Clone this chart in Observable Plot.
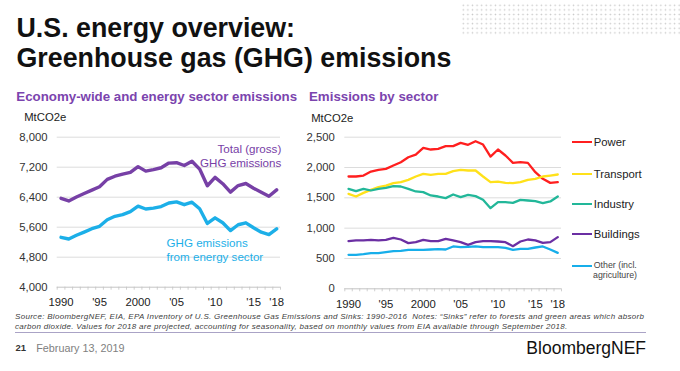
<!DOCTYPE html>
<html>
<head>
<meta charset="utf-8">
<script src="https://cdn.jsdelivr.net/npm/d3@7"></script>
<script src="https://cdn.jsdelivr.net/npm/@observablehq/plot@0.6"></script>
<style>
  html, body { margin: 0; padding: 0; background: #fff; }
  body { width: 680px; height: 371px; position: relative; overflow: hidden;
         font-family: "Liberation Sans", Arial, sans-serif; color: #000; }
  .abs { position: absolute; white-space: nowrap; }
  #dots { left: 461px; top: 3px; width: 219px; height: 32px;
          background-image: radial-gradient(circle, #c9c9c9 0.75px, rgba(255,255,255,0) 1px);
          background-size: 4.6px 4.6px; }
  .title { left: 16.5px; top: 14.1px; font-size: 26.8px; line-height: 29.7px; font-weight: bold; color: #111; }
  .sub { top: 90.4px; font-size: 13.3px; line-height: 13.3px; font-weight: bold; color: #7B44AE; }
  .unit { font-size: 11.3px; line-height: 11.3px; color: #222; }
  .leg { left: 571.7px; display: flex; align-items: center; height: 12px; }
  .leg .sw { width: 20.6px; height: 2.2px; margin-right: 1.5px; }
  .leg .lt { font-size: 11.3px; line-height: 12px; color: #222; }
  .src { left: 15px; top: 312.2px; font-size: 8px; line-height: 10px; font-style: italic; color: #404040; letter-spacing: 0.3px; }
  #rule { left: 15px; top: 332px; width: 631px; height: 1px; background: #aaa3c6; }
</style>
</head>
<body>
<div id="dots" class="abs"></div>
<div class="abs title">U.S. energy overview:<br>Greenhouse gas (GHG) emissions</div>
<div class="abs sub" style="left:16.3px">Economy-wide and energy sector emissions</div>
<div class="abs sub" style="left:309px">Emissions by sector</div>
<div class="abs unit" style="left:24.2px; top:112.1px">MtCO2e</div>
<div class="abs unit" style="left:311.2px; top:112.7px">MtCO2e</div>
<div id="left" class="abs" style="left:0; top:125px"></div>
<div id="right" class="abs" style="left:300px; top:125px"></div>
<div id="legend"></div>
<div class="abs src">Source: BloombergNEF, EIA, EPA Inventory of U.S. Greenhouse Gas Emissions and Sinks: 1990-2016&nbsp; Notes: “Sinks” refer to forests and green areas which absorb<br>carbon dioxide. Values for 2018 are projected, accounting for seasonality, based on monthly values from EIA available through September 2018.</div>
<div id="rule" class="abs"></div>
<div class="abs" style="left:15.5px; top:342px; font-size:9.5px; line-height:12px; font-weight:bold; color:#333">21</div>
<div class="abs" style="left:36.2px; top:341.7px; font-size:10.8px; line-height:12px; color:#808080">February 13, 2019</div>
<div class="abs" style="right:34px; top:337.6px; font-size:17.5px; line-height:20px; color:#111">BloombergNEF</div>
<script>
// ---------- data ----------
const years = [1990,1991,1992,1993,1994,1995,1996,1997,1998,1999,2000,2001,2002,2003,2004,2005,2006,2007,2008,2009,2010,2011,2012,2013,2014,2015,2016,2017,2018];
const totalGHG  = [6370,6300,6405,6500,6590,6680,6875,6960,7015,7060,7215,7095,7135,7185,7310,7320,7245,7360,7150,6705,6930,6760,6535,6710,6765,6640,6530,6425,6595];
const energyGHG = [5330,5285,5385,5470,5560,5625,5797,5890,5935,6015,6160,6085,6110,6150,6245,6275,6200,6267,6090,5700,5850,5720,5510,5665,5717,5585,5467,5405,5557];
const power     = [1852,1852,1868,1934,1962,1978,2033,2088,2170,2214,2324,2297,2308,2352,2352,2407,2374,2434,2379,2181,2297,2198,2077,2088,2077,1923,1813,1747,1758];
const transport = [1566,1522,1582,1632,1676,1703,1742,1758,1797,1852,1896,1879,1896,1896,1940,1962,1951,1951,1852,1758,1769,1747,1742,1758,1797,1813,1852,1868,1885];
const industry  = [1649,1610,1649,1621,1649,1665,1692,1687,1649,1605,1594,1539,1522,1495,1555,1511,1550,1528,1467,1330,1429,1429,1418,1467,1456,1445,1412,1440,1522];
const buildings = [786,797,797,808,797,808,841,813,753,769,808,786,786,824,797,769,725,769,786,786,780,769,703,780,813,797,758,769,852];
const other     = [560,560,571,588,588,604,621,626,643,643,643,648,654,648,698,687,692,698,687,687,687,676,643,659,659,681,698,648,593];

const xTickYears  = [1990,1995,2000,2005,2010,2015,2018];
const xTickLabels = ["1990","'95","2000","'05","'10","'15","'18"];
const leftYTicks  = [4000,4800,5600,6400,7200,8000];
const rightYTicks = [0,500,1000,1500,2000,2500];

const sectorNames  = ["Power","Transport","Industry","Buildings","Other (incl.\nagriculture)"];
const sectorValues = [power, transport, industry, buildings, other];
const sectorColors = ["#FF1F1F","#FFE11A","#22B799","#6B2FA3","#17AEEA"];

// ---------- helpers ----------
const font = '"Liberation Sans", Arial, sans-serif';
const yearEdges = years.map(y => y - 0.5).concat([years[years.length - 1] + 0.5]);
const labelOf = d => xTickLabels[xTickYears.indexOf(d)];
const toRows = (vals, name) => years.map((yr, i) => ({year: yr, value: vals[i], series: name}));

function axesFor(yTicks, yLabelPad) {
  return [
    Plot.gridY(yTicks.slice(1), {stroke: "#dcdcdc", strokeOpacity: 1, strokeWidth: 1}),
    Plot.ruleY([yTicks[0]], {stroke: "#c4c4c4", strokeWidth: 1}),
    Plot.axisX(yearEdges, {tickSize: 3, tickFormat: () => "", label: null, stroke: "#c4c4c4", strokeWidth: 0.8}),
    Plot.axisX(xTickYears, {tickSize: 0, tickPadding: 11, tickFormat: labelOf, label: null, fontSize: 11.3, fill: "#222"}),
    Plot.axisY(yTicks, {tickSize: 0, tickPadding: yLabelPad, tickFormat: d3.format(","), label: null, fontSize: 11.3, fill: "#333"})
  ];
}

// ---------- left chart ----------
const left = Plot.plot({
  width: 300, height: 190,
  marginLeft: 56.7, marginRight: 20, marginTop: 11.7, marginBottom: 28.3,
  style: {fontFamily: font, overflow: "visible", maxWidth: "none", background: "transparent"},
  x: {domain: [1989.5, 2018.5], label: null},
  y: {domain: [4000, 8000], label: null},
  marks: [
    ...axesFor(leftYTicks, 9.7),
    Plot.line(toRows(totalGHG, "Total"), {x: "year", y: "value", stroke: "#7740A6", strokeWidth: 3.4}),
    Plot.line(toRows(energyGHG, "Energy"), {x: "year", y: "value", stroke: "#1CAFE8", strokeWidth: 3.4}),
    Plot.text(["Total (gross)\nGHG emissions"], {x: 2018.6, y: 7200, text: d => d, textAnchor: "end", lineAnchor: "bottom", lineHeight: 1.22, fontSize: 11.6, fill: "#7740A6"}),
    Plot.text(["GHG emissions\nfrom energy sector"], {x: 2003.7, y: 4693, text: d => d, textAnchor: "start", lineAnchor: "bottom", lineHeight: 1.22, fontSize: 11.6, fill: "#1CAFE8"})
  ]
});
document.getElementById("left").appendChild(left);

// ---------- right chart ----------
const sectorRows = sectorNames.flatMap((n, i) => toRows(sectorValues[i], n));
const right = Plot.plot({
  width: 270, height: 190,
  marginLeft: 44.3, marginRight: 9, marginTop: 11.7, marginBottom: 26.7,
  style: {fontFamily: font, overflow: "visible", maxWidth: "none", background: "transparent"},
  x: {domain: [1989.5, 2018.5], label: null},
  y: {domain: [0, 2500], label: null},
  color: {domain: sectorNames, range: sectorColors},
  marks: [
    ...axesFor(rightYTicks, 10),
    Plot.line(sectorRows, {x: "year", y: "value", z: "series", stroke: "series", strokeWidth: 2.3})
  ]
});
document.getElementById("right").appendChild(right);

// ---------- legend ----------
const legendTops = [142.3, 174, 204, 234.3, 265.7];
const legend = document.getElementById("legend");
sectorNames.forEach((n, i) => {
  const row = document.createElement("div");
  row.className = "abs leg";
  const sw = document.createElement("span");
  sw.className = "sw";
  sw.style.background = sectorColors[i];
  const lt = document.createElement("span");
  lt.className = "lt";
  const parts = n.split("\n");
  lt.textContent = parts[0];
  row.appendChild(sw);
  row.appendChild(lt);
  if (parts.length > 1) {
    row.style.height = "9.4px";
    row.style.top = (legendTops[i] - 4.7) + "px";
    lt.style.fontSize = "8.8px";
    lt.style.lineHeight = "9.4px";
    lt.style.color = "#444";
    const l2 = document.createElement("div");
    l2.className = "abs";
    l2.style.cssText = "left:593px; top:" + (legendTops[i] + 4.8) + "px; font-size:8.8px; line-height:9.4px; color:#444";
    l2.textContent = parts[1];
    legend.appendChild(l2);
  } else {
    row.style.top = (legendTops[i] - 6) + "px";
  }
  legend.appendChild(row);
});
</script>
</body>
</html>
